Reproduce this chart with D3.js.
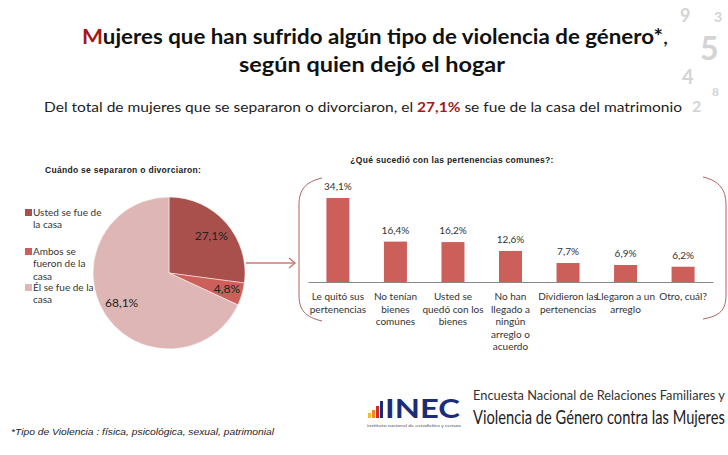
<!DOCTYPE html>
<html>
<head>
<meta charset="utf-8">
<script src="https://cdn.jsdelivr.net/npm/d3@7"></script>
<style>
  body { margin: 0; background: #fff; }
  svg { display: block; }
  text { font-family: Lato, "Open Sans", sans-serif; }
  .arial { font-family: "Liberation Sans", Arial, sans-serif; }
</style>
</head>
<body>
<div id="chart"></div>
<script>
// pie: who left the home
var pieLabels = ["Usted se fue de la casa", "Ambos se fueron de la casa", "Él se fue de la casa"];
var pieLegendLines = [["Usted se fue de", "la casa"], ["Ambos se", "fueron de la", "casa"], ["Él se fue de la", "casa"]];
var pieValues = [27.1, 4.8, 68.1];
var pieText = ["27,1%", "4,8%", "68,1%"];

// bars: what happened with common belongings
var barCats = ["Le quitó sus pertenencias", "No tenían bienes comunes", "Usted se quedó con los bienes",
  "No han llegado a ningún arreglo o acuerdo", "Dividieron las pertenencias", "Llegaron a un arreglo", "Otro, cuál?"];
var barCatLines = [["Le quitó sus", "pertenencias"], ["No tenían", "bienes", "comunes"], ["Usted se", "quedó con los", "bienes"],
  ["No han", "llegado a", "ningún", "arreglo o", "acuerdo"], ["Dividieron las", "pertenencias"], ["Llegaron a un", "arreglo"], ["Otro, cuál?"]];
var barValues = [34.1, 16.4, 16.2, 12.6, 7.7, 6.9, 6.2];
var barText = ["34,1%", "16,4%", "16,2%", "12,6%", "7,7%", "6,9%", "6,2%"];

var W = 728, H = 455;
var svg = d3.select("#chart").append("svg").attr("width", W).attr("height", H);

// stretch a text to a given width
function fit(sel, w){
  sel.attr("textLength", w).attr("lengthAdjust", "spacingAndGlyphs");
  return sel;
}

// faint numbers in the corner
var deco = [["9", 680, 22, 18], ["5", 700, 60, 32], ["3", 714, 22, 14], ["4", 682, 84, 20],
  ["2", 692, 112, 16], ["8", 712, 96, 12]];
svg.selectAll("text.deco").data(deco).enter().append("text")
  .attr("class", "deco")
  .attr("x", function(d){ return d[1]; })
  .attr("y", function(d){ return d[2]; })
  .attr("font-size", function(d){ return d[3]; })
  .attr("font-weight", "bold")
  .attr("fill", "#d4d4d4")
  .text(function(d){ return d[0]; });

// titles
var t1 = svg.append("text").attr("x", 82).attr("y", 44)
  .attr("font-size", 20).attr("font-weight", "bold").attr("fill", "#111");
t1.append("tspan").attr("fill", "#a3191b").text("M");
t1.append("tspan").text("ujeres que han sufrido algún tipo de violencia de género*");
t1.append("tspan").attr("font-weight", "normal").text(",");
fit(t1, 586);
fit(svg.append("text").attr("x", 239).attr("y", 72)
  .attr("font-size", 20).attr("font-weight", "bold").attr("fill", "#111")
  .text("según quien dejó el hogar"), 266);

var sub = svg.append("text").attr("x", 44).attr("y", 112)
  .attr("font-size", 14).attr("fill", "#222");
sub.append("tspan").text("Del total de mujeres que se separaron o divorciaron, el ");
sub.append("tspan").attr("font-weight", "bold").attr("fill", "#a3191b").text("27,1%");
sub.append("tspan").text(" se fue de la casa del matrimonio");
fit(sub, 638);

// ---------- pie ----------
var pieColors = ["#a9504c", "#cd5f5a", "#deb6b5"];
var cx = 169, cy = 273, r = 76;
var pie = d3.pie().value(function(d){ return d; }).sort(null);
var arc = d3.arc().innerRadius(0).outerRadius(r);
var labelArc = d3.arc().innerRadius(r * 0.74).outerRadius(r * 0.74);

svg.append("text").attr("class", "arial").attr("x", 45).attr("y", 173)
  .attr("font-size", 8.5).attr("font-weight", "bold").attr("fill", "#222")
  .attr("letter-spacing", 0.3)
  .text("Cuándo se separaron o divorciaron:");

var gp = svg.append("g").attr("transform", "translate(" + cx + "," + cy + ")");
gp.selectAll("path").data(pie(pieValues)).enter().append("path")
  .attr("d", arc)
  .attr("fill", function(d, i){ return pieColors[i]; })
  .attr("stroke", "#fff").attr("stroke-width", 0.5);
var lblShift = [[0, 0], [4, 0], [0, 0]];
gp.selectAll("text").data(pie(pieValues)).enter().append("text")
  .attr("x", function(d, i){ return labelArc.centroid(d)[0] + lblShift[i][0]; })
  .attr("y", function(d, i){ return labelArc.centroid(d)[1] + lblShift[i][1]; })
  .attr("text-anchor", "middle").attr("dy", "0.35em")
  .attr("font-size", 12).attr("fill", "#222")
  .text(function(d, i){ return pieText[i]; });

// legend
var legY = [216, 255, 291];
pieLegendLines.forEach(function(lines, i){
  svg.append("rect").attr("x", 25).attr("y", legY[i] - 7).attr("width", 7).attr("height", 7)
    .attr("fill", pieColors[i]);
  var t = svg.append("text").attr("x", 33).attr("y", legY[i])
    .attr("font-size", 10).attr("fill", "#333");
  lines.forEach(function(l, j){
    t.append("tspan").attr("x", 33).attr("dy", j === 0 ? 0 : 12.3).text(l);
  });
});

// arrow
svg.append("line").attr("x1", 246).attr("y1", 263).attr("x2", 294).attr("y2", 263)
  .attr("stroke", "#c87a78").attr("stroke-width", 1.3);
svg.append("path").attr("d", "M289,258 L295,263 L289,268")
  .attr("fill", "none").attr("stroke", "#c87a78").attr("stroke-width", 1.5);

// brackets
svg.append("path")
  .attr("d", "M322,178 C305,182 299,190 299,205 L299,295 C299,310 305,317 322,321")
  .attr("fill", "none").attr("stroke", "#b0625f").attr("stroke-width", 1);
svg.append("path")
  .attr("d", "M703,177 C720,181 726,190 726,205 L726,295 C726,310 720,316 703,319")
  .attr("fill", "none").attr("stroke", "#b0625f").attr("stroke-width", 1);

// ---------- bars ----------
svg.append("text").attr("class", "arial").attr("x", 452).attr("y", 163).attr("text-anchor", "middle")
  .attr("font-size", 8.5).attr("font-weight", "bold").attr("fill", "#222")
  .attr("letter-spacing", 0.3)
  .text("¿Qué sucedió con las pertenencias comunes?:");

var x = d3.scaleBand().domain(barCats).range([308, 713]).paddingInner(0.6).paddingOuter(0.32);
var y = d3.scaleLinear().domain([0, 34.1]).range([282, 198]);

svg.selectAll("rect.bar").data(barValues).enter().append("rect")
  .attr("class", "bar")
  .attr("x", function(d, i){ return x(barCats[i]); })
  .attr("y", function(d){ return y(d); })
  .attr("width", x.bandwidth())
  .attr("height", function(d){ return y(0) - y(d); })
  .attr("fill", "#cd5f5a");

svg.selectAll("text.val").data(barValues).enter().append("text")
  .attr("class", "val")
  .attr("x", function(d, i){ return x(barCats[i]) + x.bandwidth() / 2; })
  .attr("y", function(d){ return y(d) - 8; })
  .attr("text-anchor", "middle").attr("font-size", 10).attr("fill", "#333")
  .text(function(d, i){ return barText[i]; });

var axis = svg.append("g").attr("transform", "translate(0," + y(0) + ")")
  .call(d3.axisBottom(x).tickSize(0).tickFormat(""));
axis.select(".domain").attr("stroke", "#888");

barCatLines.forEach(function(lines, i){
  var t = svg.append("text").attr("x", x(barCats[i]) + x.bandwidth() / 2).attr("y", 300)
    .attr("text-anchor", "middle").attr("font-size", 10).attr("fill", "#333");
  lines.forEach(function(l, j){
    t.append("tspan").attr("x", x(barCats[i]) + x.bandwidth() / 2).attr("dy", j === 0 ? 0 : 12.5).text(l);
  });
});

// footnote
fit(svg.append("text").attr("class", "arial").attr("x", 11).attr("y", 435)
  .attr("font-size", 9).attr("font-style", "italic").attr("fill", "#222")
  .text("*Tipo de Violencia : física, psicológica, sexual, patrimonial"), 263);

// logo
var logoBars = [[368, 413, 3, "#f2c21b"], [372, 410, 3, "#f08a1d"], [376, 406, 3, "#d8282a"], [380, 401, 3, "#1c2c78"]];
logoBars.forEach(function(b){
  svg.append("rect").attr("x", b[0]).attr("y", b[1]).attr("width", b[2]).attr("height", 418 - b[1]).attr("fill", b[3]);
});
var inec = svg.append("text").attr("font-size", 26).attr("font-weight", "bold")
  .attr("fill", "#1c2c78").text("INEC");
var iw = inec.node().getComputedTextLength();
inec.attr("transform", "translate(385,418) scale(" + (75 / iw) + ",1)");
var small = svg.append("text").attr("font-size", 3.5).attr("fill", "#555")
  .text("instituto nacional de estadística y censos");
var sw = small.node().getComputedTextLength();
small.attr("transform", "translate(367,427) scale(" + (94 / sw) + ",1)");

// survey name, squeezed to its box width
[["Encuesta Nacional de Relaciones Familiares y", 400, 12.5, "#333"],
 ["Violencia de Género contra las Mujeres", 424, 20, "#222"]].forEach(function(s){
  var t = svg.append("text").attr("font-size", s[2]).attr("fill", s[3]).text(s[0]);
  var w = t.node().getComputedTextLength();
  t.attr("transform", "translate(473," + s[1] + ") scale(" + (252 / w) + ",1)");
});
</script>
</body>
</html>
